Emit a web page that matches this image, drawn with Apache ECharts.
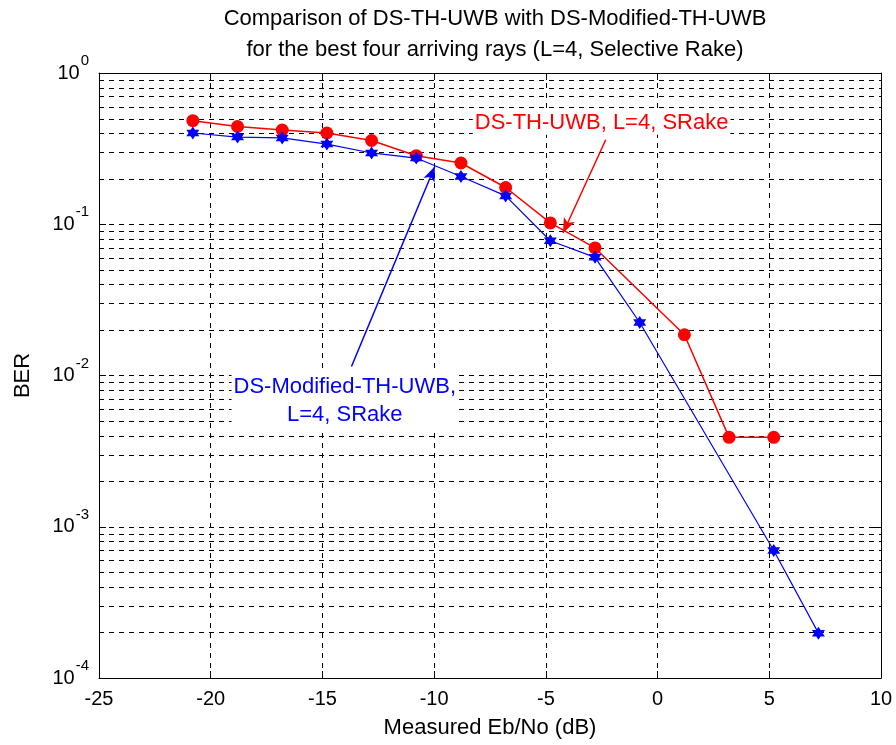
<!DOCTYPE html>
<html>
<head>
<meta charset="utf-8">
<script src="https://cdn.jsdelivr.net/npm/echarts@6/dist/echarts.min.js"></script>
<style>
  html, body { margin: 0; padding: 0; background: #fff; }
  #chart { width: 896px; height: 745px; }
</style>
</head>
<body>
<div id="chart"></div>
<script>
// ---- data ----
var xRed = [-20.8, -18.8, -16.8, -14.8, -12.8, -10.8, -8.8, -6.8, -4.8, -2.8, 1.2, 3.2, 5.2];
var berRed = [0.484, 0.443, 0.420, 0.401, 0.358, 0.284, 0.254, 0.175, 0.102, 0.0697, 0.0186, 0.0039, 0.0039];
var xBlue = [-20.8, -18.8, -16.8, -14.8, -12.8, -10.8, -8.8, -6.8, -4.8, -2.8, -0.8, 5.2, 7.2];
var berBlue = [0.401, 0.377, 0.372, 0.339, 0.296, 0.274, 0.207, 0.154, 0.0778, 0.0604, 0.0224, 0.000697, 0.000198];
var titleLines = ['Comparison of DS-TH-UWB with DS-Modified-TH-UWB', 'for the best four arriving rays (L=4, Selective Rake)'];
var xName = 'Measured Eb/No (dB)';
var yName = 'BER';
var redLabel = 'DS-TH-UWB, L=4, SRake';
var blueLabel = ['DS-Modified-TH-UWB,', 'L=4, SRake'];
// annotation anchors (data coordinates)
var redArrow = [[-2.32, 0.362], [-4.23, 0.0875]];
var blueArrow = [[-13.70, 0.01148], [-9.97, 0.241]];
var redTextAnchor = [-8.27, 0.469];
var blueTextAnchor = [-14.0, 0.00682];
var minorMult = [2, 3, 4, 5, 6, 7, 8, 9];
var decades = [1e-4, 1e-3, 1e-2, 1e-1];

var minorGrid = [];
decades.forEach(function (d) {
  minorMult.forEach(function (m) { minorGrid.push(+(d * m).toPrecision(3)); });
});

var FONT = 'Liberation Sans, Arial, sans-serif';
var dash = [5, 5];
var hexagram = 'path://M50,0 L93.3,75 L6.7,75 Z M50,100 L6.7,25 L93.3,25 Z';

function pairs(xs, ys) { return xs.map(function (x, i) { return [x, ys[i]]; }); }

var chart = echarts.init(document.getElementById('chart'), null, { renderer: 'canvas' });

var option = {
  backgroundColor: '#fff',
  animation: false,
  title: {
    text: titleLines.join('\n'),
    left: 490, textAlign: 'center', top: -2,
    textStyle: { fontFamily: FONT, fontSize: 22, fontWeight: 'normal', color: '#000', lineHeight: 31 }
  },
  grid: { left: 99, right: 15, top: 73, bottom: 67, containLabel: false },
  xAxis: [{
    type: 'value', min: -25, max: 10, interval: 5,
    name: xName, nameLocation: 'middle', nameGap: 39,
    nameTextStyle: { fontFamily: FONT, fontSize: 22, color: '#000' },
    axisLine: { show: true, onZero: false, lineStyle: { color: '#000', width: 1 } },
    axisTick: { show: true, inside: true, length: 7, lineStyle: { color: '#000' } },
    axisLabel: { fontFamily: FONT, fontSize: 20, color: '#000', margin: 11 },
    splitLine: { show: true, lineStyle: { color: '#000', type: dash, width: 1 } }
  }, {
    type: 'value', min: -25, max: 10, interval: 5, position: 'top',
    axisLine: { show: true, onZero: false, lineStyle: { color: '#000', width: 1 } },
    axisTick: { show: true, inside: true, length: 7, lineStyle: { color: '#000' } },
    axisLabel: { show: false }, splitLine: { show: false }
  }],
  yAxis: [{
    type: 'log', logBase: 10, min: 1e-4, max: 1,
    name: yName, nameLocation: 'middle', nameGap: 65, nameRotate: 90,
    nameTextStyle: { fontFamily: FONT, fontSize: 22, color: '#000' },
    axisLine: { show: true, onZero: false, lineStyle: { color: '#000', width: 1 } },
    axisTick: { show: true, inside: true, length: 7, lineStyle: { color: '#000' } },
    axisLabel: {
      margin: 10,
      formatter: function (v) {
        var e = Math.round(Math.log10(v));
        return '{b|10}{s|' + e + '}';
      },
      rich: {
        b: { fontFamily: FONT, fontSize: 20, color: '#000', lineHeight: 20 },
        s: { fontFamily: FONT, fontSize: 15, color: '#000', lineHeight: 15, padding: [0, 0, 24, 1] }
      }
    },
    splitLine: { show: true, lineStyle: { color: '#000', type: dash, width: 1 } }
  }, {
    type: 'log', logBase: 10, min: 1e-4, max: 1, position: 'right',
    axisLine: { show: true, onZero: false, lineStyle: { color: '#000', width: 1 } },
    axisTick: { show: true, inside: true, length: 7, lineStyle: { color: '#000' } },
    axisLabel: { show: false }, splitLine: { show: false }
  }],
  series: [{
    type: 'custom', name: 'minor grid', coordinateSystem: 'cartesian2d',
    xAxisIndex: 0, yAxisIndex: 0, silent: true, z: 1, clip: false,
    data: minorGrid.map(function (v) { return [-25, v]; }),
    encode: { x: 0, y: 1 },
    renderItem: function (params, api) {
      var p = api.coord([api.value(0), api.value(1)]);
      var cs = params.coordSys;
      var y = Math.round(p[1]) + 0.5;
      return {
        type: 'line',
        shape: { x1: cs.x, y1: y, x2: cs.x + cs.width, y2: y },
        style: { stroke: '#000', lineWidth: 1, lineDash: dash, fill: null }
      };
    }
  }, {
    type: 'line', name: redLabel, z: 3,
    data: pairs(xRed, berRed),
    lineStyle: { color: '#ff0000', width: 1.5 },
    itemStyle: { color: '#ff0000' },
    symbol: 'circle', symbolSize: 13, showAllSymbol: true,
    markLine: {
      silent: true, symbol: ['none', 'arrow'], symbolSize: [9, 15],
      label: { show: false },
      lineStyle: { color: '#ff0000', type: 'solid', width: 1.5 },
      data: [[{ coord: redArrow[0] }, { coord: redArrow[1] }]]
    }
  }, {
    type: 'line', name: blueLabel.join(' '), z: 4,
    data: pairs(xBlue, berBlue),
    lineStyle: { color: '#0000ff', width: 1.2 },
    itemStyle: { color: '#0000ff' },
    symbol: hexagram, symbolSize: 13, showAllSymbol: true,
    markLine: {
      silent: true, symbol: ['none', 'arrow'], symbolSize: [9, 15],
      label: { show: false },
      lineStyle: { color: '#0000ff', type: 'solid', width: 1.5 },
      data: [[{ coord: blueArrow[0] }, { coord: blueArrow[1] }]]
    }
  }]
};
chart.setOption(option);

var pr = chart.convertToPixel({ gridIndex: 0 }, redTextAnchor);
var pb = chart.convertToPixel({ gridIndex: 0 }, blueTextAnchor);
chart.setOption({
  graphic: [{
    type: 'text', x: pr[0], y: pr[1], z: 10,
    style: {
      text: redLabel, fill: '#ff0000', font: '22px ' + FONT,
      align: 'left', verticalAlign: 'middle',
      backgroundColor: '#fff', padding: [1, 2]
    }
  }, {
    type: 'text', x: pb[0], y: pb[1], z: 10,
    style: {
      text: blueLabel.join('\n'), fill: '#0000ff', font: '22px ' + FONT,
      align: 'center', verticalAlign: 'middle', lineHeight: 28,
      backgroundColor: '#fff', padding: [1, 2]
    }
  }]
});
</script>
</body>
</html>
